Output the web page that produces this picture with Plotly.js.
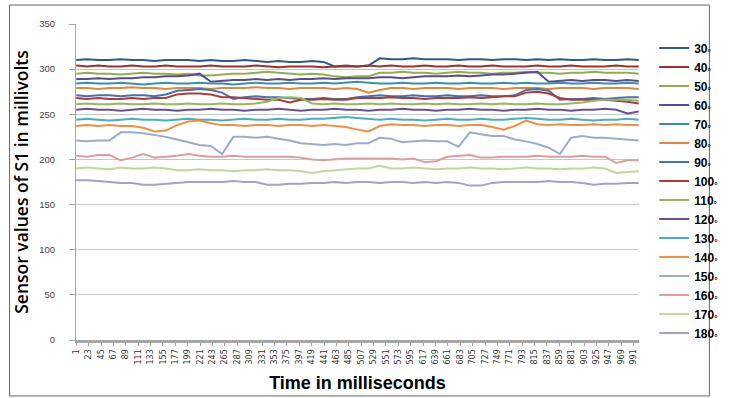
<!DOCTYPE html>
<html>
<head>
<meta charset="utf-8">
<script src="https://cdn.plot.ly/plotly-3.0.1.min.js"></script>
<style>html,body{margin:0;padding:0;background:#fff;}#chart{width:735px;height:398px;}</style>
</head>
<body>
<div id="chart"></div>
<script>
// time samples (milliseconds)
var timeMs = [1,20,40,60,80,100,120,140,160,180,200,220,240,260,280,300,320,340,360,380,400,420,440,460,480,500,520,540,560,580,600,620,640,660,680,700,720,740,760,780,800,820,840,860,880,900,920,940,960,980,1000];
var tickLabels = ["1","23","45","67","89","111","133","155","177","199","221","243","265","287","309","331","353","375","397","419","441","463","485","507","529","551","573","595","617","639","661","683","705","727","749","771","793","815","837","859","881","903","925","947","969","991"];
var seriesNames = ["30","40","50","60","70","80","90","100","110","120","130","140","150","160","170","180"];

var s30 = [310,311,310,310,311,310,310,309,310,310,310,309,310,309,309,310,309,308,309,308,308,309,308,303,304,303,304,312,311,311,312,311,311,311,310,311,311,310,311,311,310,311,310,311,310,310,311,310,310,311,310];
var s40 = [304,303,304,303,303,304,303,303,304,303,303,303,304,303,303,303,304,303,302,303,303,303,302,303,303,303,304,303,304,303,303,304,303,303,304,303,303,304,303,303,303,304,303,303,304,303,303,303,304,303,303];
var s50 = [295,296,295,295,294,295,296,295,295,294,295,293,293,294,295,295,296,297,296,295,294,295,294,292,291,292,292,296,296,297,296,296,295,296,297,296,296,295,296,296,297,296,296,295,296,296,297,296,296,296,295];
var s60 = [289,289,290,289,290,290,291,291,292,292,293,295,286,287,288,288,289,288,289,288,289,289,290,289,290,290,290,291,291,290,291,292,292,292,293,292,293,294,294,295,296,297,286,287,288,287,288,288,287,288,287];
var s70 = [284,285,284,284,285,284,283,284,285,284,284,285,284,284,283,284,285,284,284,285,284,284,285,284,285,286,285,284,284,285,284,284,285,284,284,285,284,284,285,284,285,284,284,285,284,284,285,284,284,285,284];
var s80 = [279,279,278,279,279,280,279,279,278,279,279,279,278,279,279,279,280,279,279,278,279,279,279,278,279,278,274,277,279,279,278,279,279,279,278,279,279,279,278,279,279,279,278,279,279,279,278,279,279,279,278];
var s90 = [271,270,271,271,270,271,271,270,272,276,277,278,277,274,267,269,270,269,269,268,267,267,268,267,267,269,270,271,270,270,271,270,270,271,270,270,271,270,270,271,277,278,276,266,267,267,268,267,268,269,269];
var s100 = [268,267,268,267,267,268,267,268,268,272,273,273,272,269,269,268,267,266,266,263,266,266,267,266,266,268,268,268,269,268,268,267,268,268,268,269,268,269,270,270,274,275,273,268,266,266,266,266,265,264,262];
var s110 = [261,262,261,261,262,261,261,262,261,261,262,261,261,262,261,261,262,264,268,269,268,262,261,262,261,261,262,261,262,261,261,262,261,262,261,261,262,261,262,261,261,262,261,261,262,263,265,266,266,266,265];
var s120 = [255,256,255,255,254,255,256,255,255,254,255,255,256,255,255,254,255,255,256,255,254,255,255,256,255,255,254,255,255,256,255,255,254,255,255,256,255,255,254,255,255,256,255,255,254,255,255,256,255,251,253];
var s130 = [244,245,244,243,244,245,244,244,243,244,245,244,244,243,244,245,244,244,245,244,244,245,245,246,247,246,245,244,245,244,244,243,244,245,244,244,245,244,244,245,246,245,244,244,245,244,243,244,244,245,244];
var s140 = [237,238,237,238,237,237,235,231,232,238,242,243,240,238,238,237,238,238,237,238,238,237,238,237,236,233,231,237,239,238,238,237,238,238,237,238,238,236,233,237,243,239,238,239,238,238,239,238,239,238,238];
var s150 = [221,220,221,221,230,230,229,227,225,222,219,216,215,206,225,225,224,225,223,221,218,217,216,217,216,218,218,224,223,219,220,221,220,220,214,230,228,226,226,222,220,217,213,206,224,226,224,224,223,222,221];
var s160 = [204,203,205,205,199,202,206,202,203,204,206,204,203,203,204,203,203,203,203,203,202,200,199,200,201,201,201,201,201,200,201,197,198,203,204,205,202,202,203,203,203,204,203,203,203,204,203,203,196,199,199];
var s170 = [190,191,190,189,191,190,190,191,190,188,188,189,188,188,187,188,188,189,188,188,187,185,187,188,189,190,190,193,190,190,191,190,189,190,190,191,190,190,189,190,191,190,190,189,190,190,191,190,185,186,187];
var s180 = [177,177,176,175,174,174,172,172,173,174,175,175,175,175,176,175,175,172,172,173,173,174,174,175,174,175,175,174,175,175,174,175,174,175,174,171,171,174,175,175,175,175,176,175,175,174,172,173,173,174,174];

var seriesValues = [s30,s40,s50,s60,s70,s80,s90,s100,s110,s120,s130,s140,s150,s160,s170,s180];
var seriesColors = ["#2E5A8C","#A0302C","#8DB04F","#5E4A8E","#3694A8","#E0883C","#3F72B8","#B03A36","#93B958","#6A4F98","#45AFC8","#F29040","#9AACCA","#D9A0A0","#C3D6A0","#A99FC4"];

var tickVals = tickLabels.map(function(t){return Number(t);});

var traces = seriesNames.map(function(name, k){
  return {
    type: "scatter",
    mode: "lines",
    x: timeMs,
    y: seriesValues[k],
    name: name + "<sub>°</sub>",
    line: {color: seriesColors[k], width: 2}
  };
});

var layout = {
  width: 735,
  height: 398,
  margin: {l: 76, r: 75, t: 24, b: 58},
  paper_bgcolor: "#ffffff",
  plot_bgcolor: "#ffffff",
  showlegend: true,
  legend: {
    x: 1.027, xanchor: "left",
    y: 0.473, yanchor: "middle",
    font: {family: "Liberation Sans, Arial, sans-serif", size: 12, color: "#000", weight: "bold"},
    bgcolor: "rgba(0,0,0,0)",
    traceorder: "normal",
    itemwidth: 30,
    tracegroupgap: 0
  },
  xaxis: {
    range: [0.5, 1000.5],
    tickmode: "array",
    tickvals: tickVals,
    ticktext: tickLabels,
    tickangle: -90,
    tickfont: {family: "DejaVu Sans, sans-serif", size: 8, color: "#333"},
    showgrid: false,
    zeroline: false,
    showline: true,
    linecolor: "#a6a6a6",
    linewidth: 3,
    ticks: "outside",
    ticklen: 3,
    tickcolor: "#a6a6a6",
    title: {text: "Time in milliseconds", font: {family: "Liberation Sans, Arial, sans-serif", size: 18, color: "#000", weight: "bold"}, standoff: 13}
  },
  yaxis: {
    range: [0, 350],
    dtick: 50,
    tick0: 0,
    showgrid: true,
    gridcolor: "#c8c8c8",
    gridwidth: 1,
    zeroline: false,
    showline: true,
    linecolor: "#a6a6a6",
    linewidth: 1,
    ticks: "outside",
    ticklen: 6,
    tickcolor: "#a6a6a6",
    ticklabelstandoff: 12,
    tickfont: {family: "Liberation Sans, Arial, sans-serif", size: 9.5, color: "#444"},
    title: {text: "Sensor values of S1 in millivolts", font: {family: "Open Sans, sans-serif", size: 17.5, color: "#000", weight: 600}, standoff: 6}
  },
  shapes: [{
    type: "rect", xref: "paper", yref: "paper",
    x0: -0.118, x1: 1.125, y0: -0.177, y1: 1.060,
    line: {color: "#666", width: 1}, fillcolor: "rgba(0,0,0,0)"
  }]
};

Plotly.newPlot("chart", traces, layout, {displayModeBar: false, staticPlot: true});
</script>
</body>
</html>
